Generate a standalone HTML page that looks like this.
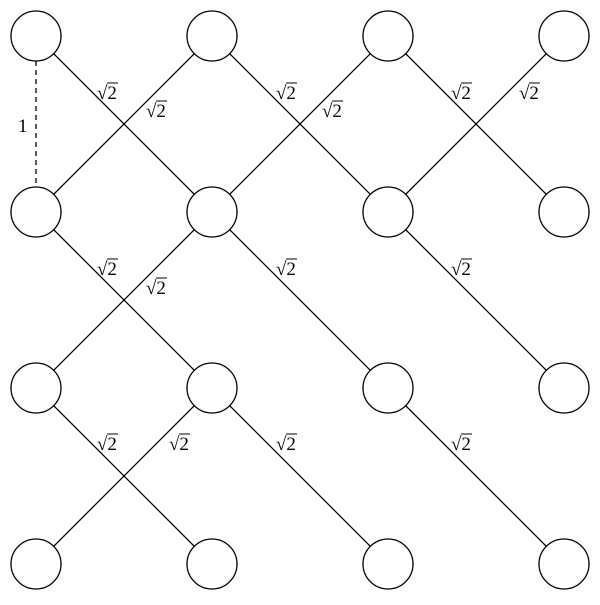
<!DOCTYPE html>
<html><head><style>body{margin:0;background:#fff}</style></head><body>
<svg width="600" height="600" xmlns="http://www.w3.org/2000/svg" font-family="Liberation Serif, serif" font-size="19">
<g stroke="#000" stroke-width="1.3" fill="none">
<line x1="36" y1="36" x2="212" y2="212"/>
<line x1="212" y1="36" x2="36" y2="212"/>
<line x1="212" y1="36" x2="388" y2="212"/>
<line x1="388" y1="36" x2="212" y2="212"/>
<line x1="388" y1="36" x2="564" y2="212"/>
<line x1="564" y1="36" x2="388" y2="212"/>
<line x1="36" y1="212" x2="212" y2="388"/>
<line x1="212" y1="212" x2="36" y2="388"/>
<line x1="212" y1="212" x2="388" y2="388"/>
<line x1="388" y1="212" x2="564" y2="388"/>
<line x1="36" y1="388" x2="212" y2="564"/>
<line x1="212" y1="388" x2="36" y2="564"/>
<line x1="212" y1="388" x2="388" y2="564"/>
<line x1="388" y1="388" x2="564" y2="564"/>
<line x1="36" y1="61" x2="36" y2="187" stroke-dasharray="5,4"/>
</g>
<g stroke="#000" stroke-width="1.3" fill="#fff">
<circle cx="36" cy="36" r="25"/><circle cx="212" cy="36" r="25"/><circle cx="388" cy="36" r="25"/><circle cx="564" cy="36" r="25"/>
<circle cx="36" cy="212" r="25"/><circle cx="212" cy="212" r="25"/><circle cx="388" cy="212" r="25"/><circle cx="564" cy="212" r="25"/>
<circle cx="36" cy="388" r="25"/><circle cx="212" cy="388" r="25"/><circle cx="388" cy="388" r="25"/><circle cx="564" cy="388" r="25"/>
<circle cx="36" cy="564" r="25"/><circle cx="212" cy="564" r="25"/><circle cx="388" cy="564" r="25"/><circle cx="564" cy="564" r="25"/>
</g>
<text x="18" y="132">1</text>
<defs><g id="s"><text x="0" y="0">√2</text><line x1="10" y1="-16" x2="21" y2="-16" stroke="#000" stroke-width="1"/></g></defs>
<use href="#s" x="97" y="99"/>
<use href="#s" x="146" y="117"/>
<use href="#s" x="276" y="99"/>
<use href="#s" x="322" y="117"/>
<use href="#s" x="451" y="99"/>
<use href="#s" x="519" y="99"/>
<use href="#s" x="97" y="275"/>
<use href="#s" x="146" y="294"/>
<use href="#s" x="276" y="275"/>
<use href="#s" x="451" y="275"/>
<use href="#s" x="97" y="450"/>
<use href="#s" x="169" y="450"/>
<use href="#s" x="276" y="450"/>
<use href="#s" x="451" y="450"/>
</svg>
</body></html>
